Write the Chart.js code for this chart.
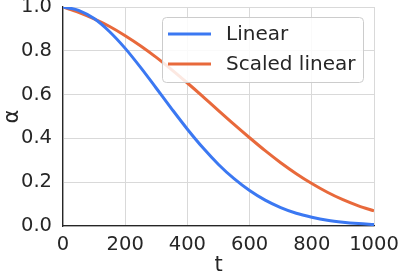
<!DOCTYPE html>
<html>
<head>
<meta charset="utf-8">
<script src="https://cdn.jsdelivr.net/npm/chart.js@4"></script>
<style>
  body { margin: 0; background: #fff; }
  canvas { display: block; }
</style>
</head>
<body>
<canvas id="alphaChart" width="398" height="276"></canvas>
<script>
// timesteps and values
const steps = [0, 50, 100, 150, 200, 250, 300, 350, 400, 450, 500, 550, 600, 650, 700, 750, 800, 850, 900, 950, 1000];
const linearAlpha = [1.0, 0.985, 0.947, 0.887, 0.811, 0.723, 0.629, 0.534, 0.442, 0.357, 0.281, 0.216, 0.162, 0.118, 0.084, 0.058, 0.040, 0.026, 0.017, 0.011, 0.007];
const scaledAlpha = [1.0, 0.976, 0.946, 0.911, 0.869, 0.822, 0.770, 0.713, 0.653, 0.591, 0.527, 0.464, 0.403, 0.344, 0.289, 0.239, 0.194, 0.154, 0.120, 0.092, 0.069];
const seriesNames = ['Linear', 'Scaled linear'];
const seriesColors = ['#3b78f2', '#e8693b'];
const xTicks = [0, 200, 400, 600, 800, 1000];
const yTicks = [0.0, 0.2, 0.4, 0.6, 0.8, 1.0];

const FONT = 'DejaVu Sans';
const TEXT = '#262626';
const GRID = '#d9d9d9';

const toPoints = vals => steps.map((t, i) => ({ x: t, y: vals[i] }));

// legend drawn inside the plot, top right, like matplotlib
const boxLegend = {
  id: 'boxLegend',
  afterDraw(chart) {
    const c = chart.ctx;
    const x = 162.5, y = 17.5, w = 201, h = 65, r = 4;
    c.save();
    c.beginPath();
    c.moveTo(x + r, y);
    c.arcTo(x + w, y, x + w, y + h, r);
    c.arcTo(x + w, y + h, x, y + h, r);
    c.arcTo(x, y + h, x, y, r);
    c.arcTo(x, y, x + w, y, r);
    c.closePath();
    c.fillStyle = 'rgba(255,255,255,0.85)';
    c.fill();
    c.strokeStyle = '#cccccc';
    c.lineWidth = 1;
    c.stroke();
    c.font = '20px "' + FONT + '"';
    c.textBaseline = 'middle';
    chart.data.datasets.forEach((ds, i) => {
      const ly = 34 + i * 30;
      c.strokeStyle = ds.borderColor;
      c.lineWidth = 3;
      c.beginPath();
      c.moveTo(168, ly);
      c.lineTo(211, ly);
      c.stroke();
      c.fillStyle = TEXT;
      c.fillText(ds.label, 226, ly + 1);
    });
    c.restore();
  }
};

const ctx = document.getElementById('alphaChart').getContext('2d');
new Chart(ctx, {
  type: 'line',
  data: {
    datasets: [
      { label: seriesNames[0], data: toPoints(linearAlpha), borderColor: seriesColors[0] },
      { label: seriesNames[1], data: toPoints(scaledAlpha), borderColor: seriesColors[1] }
    ]
  },
  options: {
    responsive: false,
    animation: false,
    layout: { padding: { top: 7, right: 24, left: 0, bottom: 0 } },
    elements: {
      line: { borderWidth: 3, cubicInterpolationMode: 'monotone', fill: false },
      point: { radius: 0 }
    },
    plugins: { legend: { display: false }, tooltip: { enabled: false } },
    scales: {
      x: {
        type: 'linear',
        min: 0,
        max: 1000,
        afterBuildTicks: s => { s.ticks = xTicks.map(v => ({ value: v })); },
        afterFit: s => { s.height = 50; s.paddingLeft = 0; s.paddingRight = 0; },
        grid: { color: GRID, lineWidth: 1, drawTicks: false },
        border: { color: TEXT, width: 1.3 },
        ticks: { color: TEXT, font: { family: FONT, size: 19.5 }, padding: 7, maxRotation: 0, callback: v => String(v) },
        title: { display: true, text: 't', color: TEXT, font: { family: FONT, size: 21 }, padding: { top: 0, bottom: -2 } }
      },
      y: {
        min: 0,
        max: 1,
        afterBuildTicks: s => { s.ticks = yTicks.map(v => ({ value: v })); },
        afterFit: s => { s.width = 63; s.paddingTop = 0; s.paddingBottom = 0; },
        grid: { color: GRID, lineWidth: 1, drawTicks: false },
        border: { color: TEXT, width: 1.3 },
        ticks: { color: TEXT, font: { family: FONT, size: 19.5 }, padding: 11, callback: v => v.toFixed(1) },
        title: { display: true, text: 'α', color: TEXT, font: { family: FONT, size: 21 }, padding: 0 }
      }
    }
  },
  plugins: [boxLegend]
});
</script>
</body>
</html>
